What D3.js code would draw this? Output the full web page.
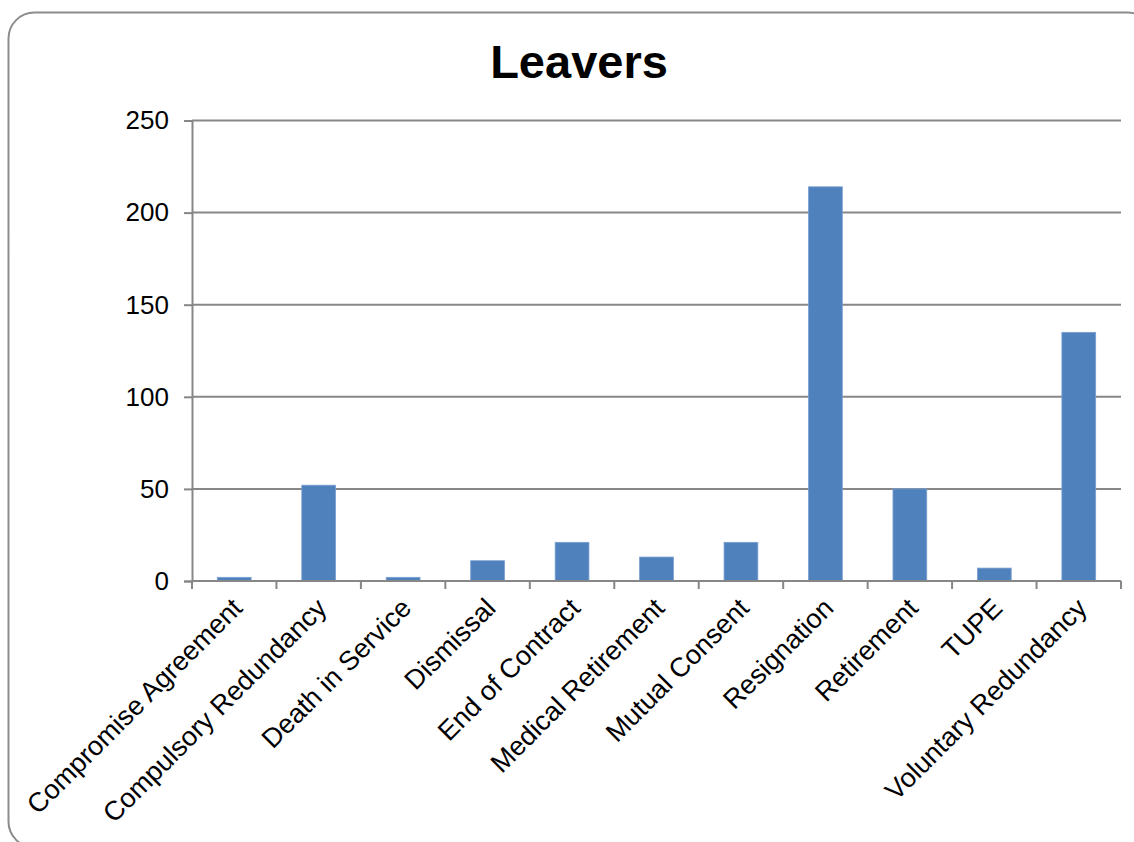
<!DOCTYPE html>
<html>
<head>
<meta charset="utf-8">
<script src="https://cdn.jsdelivr.net/npm/d3@7"></script>
<style>
  html, body { margin: 0; padding: 0; background: #fff; }
  svg { display: block; font-family: "Liberation Sans", Arial, sans-serif; }
</style>
</head>
<body>
<svg id="chart" width="1134" height="842"></svg>
<script>
// Leavers by reason
const categories = [
  "Compromise Agreement", "Compulsory Redundancy", "Death in Service",
  "Dismissal", "End of Contract", "Medical Retirement", "Mutual Consent",
  "Resignation", "Retirement", "TUPE", "Voluntary Redundancy"
];
const leavers = [2, 52, 2, 11, 21, 13, 21, 214, 50, 7, 135];
const yTicks = [0, 50, 100, 150, 200, 250];

const svg = d3.select("#chart");
const plotLeft = 192, plotRight = 1121, plotTop = 120.5, plotBottom = 581;
const gridColor = "#878787";

// outer frame
svg.append("rect")
  .attr("x", 8.5).attr("y", 12.5)
  .attr("width", 1145).attr("height", 835)
  .attr("rx", 26).attr("ry", 26)
  .attr("fill", "#fff")
  .attr("stroke", "#8c8c8c").attr("stroke-width", 2);

// title
svg.append("text")
  .attr("x", 579).attr("y", 78)
  .attr("text-anchor", "middle")
  .attr("font-size", 47).attr("font-weight", "bold")
  .attr("fill", "#000")
  .text("Leavers");

const x = d3.scaleBand().domain(categories).range([plotLeft, plotRight]).paddingInner(0.6).paddingOuter(0.3);
const xEdges = d3.scaleLinear().domain([0, categories.length]).range([plotLeft, plotRight]);
const y = d3.scaleLinear().domain([0, 250]).range([plotBottom, plotTop]);

// y axis with ticks
const yAxis = d3.axisLeft(y).tickValues(yTicks).tickSize(8).tickPadding(15);
const gy = svg.append("g").attr("transform", `translate(${plotLeft},0)`).call(yAxis);
gy.select(".domain").attr("stroke", gridColor).attr("stroke-width", 2);
gy.selectAll(".tick line").attr("stroke", gridColor).attr("stroke-width", 2);
gy.selectAll(".tick text")
  .attr("font-size", 26).attr("fill", "#000")
  .attr("font-family", "'Liberation Sans', Arial, sans-serif");

// horizontal gridlines
svg.append("g").selectAll("line")
  .data(yTicks.filter(d => d > 0))
  .join("line")
  .attr("x1", plotLeft).attr("x2", plotRight)
  .attr("y1", d => y(d)).attr("y2", d => y(d))
  .attr("stroke", gridColor).attr("stroke-width", 2);

// bars
svg.append("g").selectAll("rect")
  .data(leavers)
  .join("rect")
  .attr("x", (d, i) => x(categories[i]))
  .attr("width", x.bandwidth())
  .attr("y", d => y(d))
  .attr("height", d => plotBottom - y(d))
  .attr("fill", "#4F81BD")
  .attr("stroke", "#7a9fd0").attr("stroke-width", 0.8);

// x axis baseline and boundary ticks
svg.append("line")
  .attr("x1", plotLeft).attr("x2", plotRight)
  .attr("y1", plotBottom).attr("y2", plotBottom)
  .attr("stroke", gridColor).attr("stroke-width", 2);
svg.append("g").selectAll("line")
  .data(d3.range(categories.length + 1))
  .join("line")
  .attr("x1", d => xEdges(d)).attr("x2", d => xEdges(d))
  .attr("y1", plotBottom).attr("y2", plotBottom + 8)
  .attr("stroke", gridColor).attr("stroke-width", 2);

// rotated category labels
svg.append("g").selectAll("text")
  .data(categories)
  .join("text")
  .attr("transform", d => `translate(${x(d) + x.bandwidth() / 2 + 3},${plotBottom + 22}) rotate(-45)`)
  .attr("text-anchor", "end")
  .attr("dy", "0.35em")
  .attr("font-size", 27)
  .attr("fill", "#000")
  .text(d => d);
</script>
</body>
</html>
